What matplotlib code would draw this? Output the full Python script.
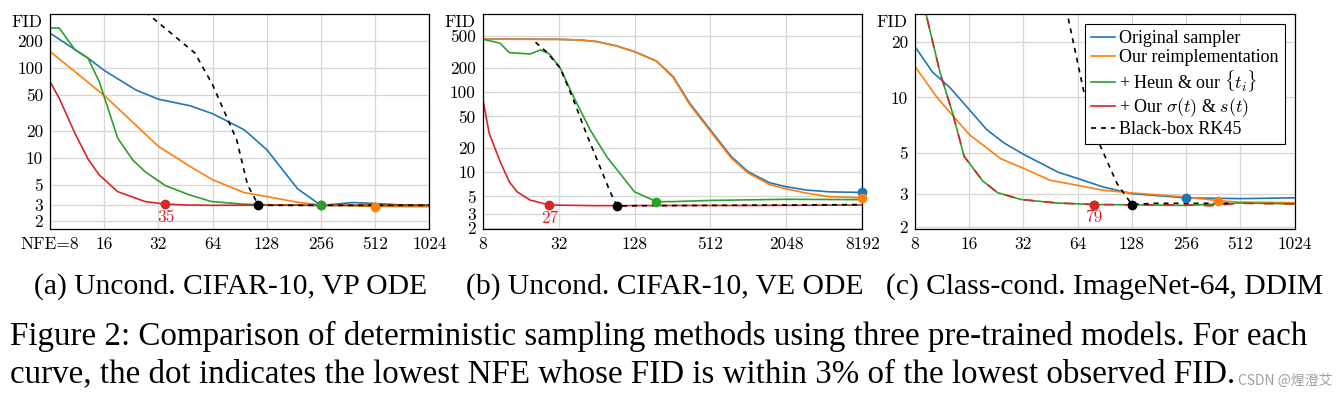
import matplotlib.pyplot as plt
from matplotlib.lines import Line2D

plt.rcParams['font.family'] = 'cmr10'
plt.rcParams['mathtext.fontset'] = 'cm'
plt.rcParams['axes.formatter.use_mathtext'] = True

BLUE, ORANGE, GREEN, RED = '#1f77b4', '#ff7f0e', '#2ca02c', '#d62728'

# ---- (a) Uncond. CIFAR-10, VP ODE
a_orig_nfe = [8, 13, 16, 24, 32, 48, 64, 96, 128, 190, 256, 384, 512, 700, 1024]
a_orig_fid = [245, 129, 94, 57, 45, 38, 31, 20.5, 12.3, 4.5, 2.95, 3.18, 3.1, 3.0, 3.0]
a_reimpl_nfe = [8, 16, 32, 48, 64, 96, 128, 190, 256, 512, 1024]
a_reimpl_fid = [153, 49.5, 13.4, 8.0, 5.7, 4.1, 3.7, 3.2, 3.0, 2.87, 2.85]
a_heun_nfe = [8, 9, 11, 13, 15, 19, 23, 27, 35, 47, 63, 95, 127, 255, 511, 1023]
a_heun_fid = [279, 279, 160, 129, 71, 16.6, 9.5, 7.0, 4.9, 3.9, 3.26, 3.05, 3.0, 2.95, 2.95, 2.95]
a_ours_nfe = [8, 9, 11, 13, 15, 19, 27, 35, 47, 63, 127, 255, 511, 1023]
a_ours_fid = [71, 46, 18.8, 9.7, 6.46, 4.2, 3.26, 3.05, 2.98, 2.96, 2.97, 2.96, 2.97, 2.97]
a_rk45_nfe = [22, 28, 51, 64, 87, 100, 115, 256, 512, 1024]
a_rk45_fid = [600, 400, 147, 65, 15.9, 5.0, 2.96, 2.96, 2.96, 2.96]
a_dot_nfe = [256, 512, 256, 35, 115]
a_dot_fid = [2.95, 2.87, 2.95, 3.05, 2.96]

# ---- (b) Uncond. CIFAR-10, VE ODE
b_orig_nfe = [8, 16, 32, 47, 64, 92, 128, 191, 259, 351, 512, 750, 1017, 1510, 2048, 2955, 4500, 8192]
b_orig_fid = [460, 460, 458, 450, 430, 380, 322, 246, 157, 72.9, 33.8, 15.7, 10.2, 7.4, 6.6, 6.0, 5.7, 5.6]
b_reimpl_nfe = [8, 16, 32, 47, 64, 92, 128, 191, 259, 351, 512, 750, 1017, 1510, 2048, 2955, 4500, 8192]
b_reimpl_fid = [460, 460, 458, 450, 430, 378, 320, 244, 153, 70, 32.5, 15.0, 9.8, 7.0, 6.2, 5.5, 4.96, 4.8]
b_heun_nfe = [8, 11, 13, 19, 23, 27, 33, 42, 57, 77, 98, 128, 191, 255, 512, 2048, 8192]
b_heun_fid = [460, 410, 313, 301, 338, 302, 200, 88, 33.8, 15.7, 9.7, 5.7, 4.3, 4.3, 4.45, 4.6, 4.55]
b_ours_nfe = [8, 9, 11, 13, 15, 19, 27, 63, 255, 1023, 4095, 8192]
b_ours_fid = [84, 30.7, 13.6, 7.6, 5.7, 4.5, 3.9, 3.83, 3.85, 3.85, 3.88, 3.9]
b_rk45_nfe = [21, 26, 33, 42, 53, 68, 82, 93, 128, 512, 2048, 8192]
b_rk45_fid = [422, 313, 200, 80, 30.7, 11.8, 5.7, 3.8, 3.82, 3.86, 3.9, 3.95]
b_dot_nfe = [8192, 8192, 191, 27, 93]
b_dot_fid = [5.6, 4.8, 4.3, 3.9, 3.8]

# ---- (c) Class-cond. ImageNet-64, DDIM
c_orig_nfe = [8, 10, 12.5, 16, 20, 25, 32, 50, 64, 89, 128, 256, 512, 1024]
c_orig_fid = [18.8, 13.7, 11.3, 8.6, 6.7, 5.67, 4.93, 3.94, 3.65, 3.28, 3.02, 2.87, 2.84, 2.87]
c_reimpl_nfe = [8, 10.6, 16, 24, 32, 45, 64, 89, 128, 256, 385, 512, 1024]
c_reimpl_fid = [14.7, 10, 6.3, 4.66, 4.14, 3.57, 3.35, 3.15, 3.05, 2.9, 2.77, 2.72, 2.7]
c_heun_nfe = [8, 11, 13, 15, 19, 23, 31, 49, 79, 127, 255, 511, 1023]
c_heun_fid = [50, 13.7, 8.1, 4.8, 3.54, 3.06, 2.81, 2.69, 2.64, 2.63, 2.61, 2.69, 2.66]
c_ours_nfe = [8, 11, 13, 15, 19, 23, 31, 49, 79, 127, 255, 350, 511, 1023]
c_ours_fid = [50, 13.7, 8.1, 4.8, 3.54, 3.06, 2.81, 2.69, 2.64, 2.63, 2.63, 2.6, 2.68, 2.66]
c_rk45_nfe = [50, 56, 69, 85, 106, 128, 169, 300, 440]
c_rk45_fid = [50, 28.4, 10.9, 5.55, 3.42, 2.64, 2.68, 2.68, 2.68]
c_dot_nfe = [256, 385, 79, 79, 128]
c_dot_fid = [2.87, 2.77, 2.64, 2.64, 2.64]

labels = ['Original sampler', 'Our reimplementation', r'+ Heun & our $\{t_i\}$',
          r'+ Our $\sigma(t)$ & $s(t)$', 'Black-box RK45']
captions = ['(a) Uncond. CIFAR-10, VP ODE', '(b) Uncond. CIFAR-10, VE ODE',
            '(c) Class-cond. ImageNet-64, DDIM']
caption1 = ('Figure 2: Comparison of deterministic sampling methods using three '
            'pre-trained models. For each')
caption2 = ('curve, the dot indicates the lowest NFE whose FID is within 3% of '
            'the lowest observed FID.')

panels = [
    dict(left=50, xt=[8, 16, 32, 64, 128, 256, 512, 1024], xl=(8, 1024), yl=(1.6, 400),
         yt=[2, 3, 5, 10, 20, 50, 100, 200],
         series=[(a_orig_nfe, a_orig_fid), (a_reimpl_nfe, a_reimpl_fid),
                 (a_heun_nfe, a_heun_fid), (a_ours_nfe, a_ours_fid), (a_rk45_nfe, a_rk45_fid)],
         dots=(a_dot_nfe, a_dot_fid), note='35', red_dash=False),
    dict(left=482.7, xt=[8, 32, 128, 512, 2048, 8192], xl=(8, 8192), yl=(1.94, 950),
         yt=[2, 3, 5, 10, 20, 50, 100, 200, 500],
         series=[(b_orig_nfe, b_orig_fid), (b_reimpl_nfe, b_reimpl_fid),
                 (b_heun_nfe, b_heun_fid), (b_ours_nfe, b_ours_fid), (b_rk45_nfe, b_rk45_fid)],
         dots=(b_dot_nfe, b_dot_fid), note='27', red_dash=False),
    dict(left=915, xt=[8, 16, 32, 64, 128, 256, 512, 1024], xl=(8, 1024), yl=(1.94, 28.2),
         yt=[2, 3, 5, 10, 20],
         series=[(c_orig_nfe, c_orig_fid), (c_reimpl_nfe, c_reimpl_fid),
                 (c_heun_nfe, c_heun_fid), (c_ours_nfe, c_ours_fid), (c_rk45_nfe, c_rk45_fid)],
         dots=(c_dot_nfe, c_dot_fid), note='79', red_dash=True),
]

W, H = 1339, 397
fig = plt.figure(figsize=(W / 100, H / 100), dpi=100)
cols = [BLUE, ORANGE, GREEN, RED, 'black']

for i, p in enumerate(panels):
    ax = fig.add_axes([p['left'] / W, 1 - 229.3 / H, 379.5 / W, 215.3 / H])
    ax.set_xscale('log', base=2)
    ax.set_yscale('log')
    for k, (x, y) in enumerate(p['series']):
        ls = '-'
        if k == 4:
            ls = (0, (3, 3))
        elif k == 3 and p['red_dash']:
            ls = (0, (6, 6))
        ax.plot(x, y, color=cols[k], lw=1.2, ls=ls)
    for k, (x, y) in enumerate(zip(*p['dots'])):
        ax.plot(x, y, 'o', color=cols[k], ms=6, clip_on=False, zorder=5)
    red_x, red_y = p['dots'][0][3], p['dots'][1][3]
    ax.annotate(p['note'], xy=(red_x, red_y), xytext=(0, -9.5), textcoords='offset points',
                ha='center', va='center', color=RED, fontsize=12.5)
    ax.set_xlim(*p['xl'])
    ax.set_ylim(*p['yl'])
    xlabels = [str(v) for v in p['xt']]
    if i == 0:
        xlabels[0] = 'NFE=8'
    ax.set_xticks(p['xt'], xlabels)
    ax.set_yticks(p['yt'], [str(v) for v in p['yt']])
    ax.minorticks_off()
    ax.tick_params(length=0, pad=5, labelsize=12.5)
    ax.grid(True, color='#d6d6d6', lw=0.9)
    ax.set_axisbelow(True)
    for s in ax.spines.values():
        s.set_linewidth(0.9)
    ax.annotate('FID', xy=(0, 1), xycoords='axes fraction', xytext=(-5.5, -6.2),
                textcoords='offset points', ha='right', va='center', fontsize=12.5)
    if i == 2:
        handles = [Line2D([], [], color=c, lw=1.2) for c in cols[:4]]
        handles.append(Line2D([], [], color='black', lw=1.2, ls=(0, (3, 3))))
        leg = ax.legend(handles, labels, loc='upper right',
                        prop={'family': 'Liberation Serif', 'size': 13},
                        fancybox=False, edgecolor='black', framealpha=1,
                        handlelength=1.33, handletextpad=0.2, labelspacing=0.12,
                        borderpad=0.35, borderaxespad=0.55)
        leg.get_frame().set_linewidth(0.8)

cap_x = [231, 665, 1105]
for cx, txt in zip(cap_x, captions):
    fig.text(cx / W, 1 - 293.5 / H, txt, ha='center', va='baseline',
             family='Liberation Serif', fontsize=21.3)

fig.text(10 / W, 1 - 345 / H, caption1, ha='left', va='baseline',
         family='Liberation Serif', fontsize=23.8)
fig.text(10 / W, 1 - 382.5 / H, caption2, ha='left', va='baseline',
         family='Liberation Serif', fontsize=23.8)
fig.text(1238 / W, 1 - 385 / H, 'CSDN @煋澄艾', ha='left', va='baseline',
         family=['Noto Sans CJK SC', 'DejaVu Sans'], fontsize=10, color='#a0a0a0')

fig.savefig('out.png', dpi=100)
